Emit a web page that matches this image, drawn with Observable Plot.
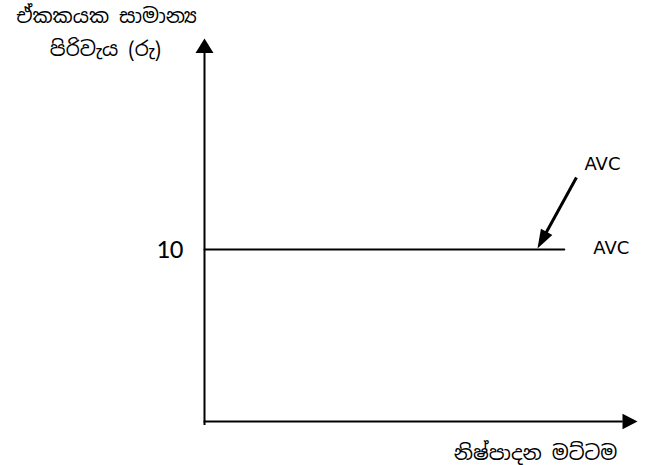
<!DOCTYPE html>
<html>
<head>
<meta charset="utf-8">
<script src="https://cdn.jsdelivr.net/npm/d3@7"></script>
<script src="https://cdn.jsdelivr.net/npm/@observablehq/plot@0.6"></script>
<style>
  html, body { margin: 0; padding: 0; background: #fff; }
  #chart svg { display: block; }
</style>
</head>
<body>
<div id="chart"></div>
<script>
// Data
const avcX = [0, 83.1];
const avcY = [10, 10];
const yTicks = [10];
const yTickLabels = ["10"];
const yLabelLines = ["ඒකකයක සාමාන්‍ය", "පිරිවැය (රු)"];
const xLabel = "නිෂ්පාදන මට්ටම";
const curveLabel = "AVC";
const annotationFrom = [85.9, 14.19];
const annotationTo = [76.9, 10.06];
const xMax = 100;
const yMax = 22.27;

const sinhalaFont = "'Noto Sans Sinhala', 'Iskoola Pota', 'Noto Sans', sans-serif";

// custom filled triangle with its tip at the origin, pointing up
function triangleSymbol(w, h) {
  return {
    draw(ctx) {
      ctx.moveTo(0, 0);
      ctx.lineTo(-w / 2, h);
      ctx.lineTo(w / 2, h);
      ctx.closePath();
    }
  };
}

const avcData = avcX.map((x, i) => ({x, y: avcY[i]}));
const frac = 0.85;
const linkEnd = [
  annotationFrom[0] + (annotationTo[0] - annotationFrom[0]) * frac,
  annotationFrom[1] + (annotationTo[1] - annotationFrom[1]) * frac
];

const plot = Plot.plot({
  width: 650,
  height: 465,
  marginLeft: 204,
  marginRight: 13,
  marginTop: 38,
  marginBottom: 44,
  x: {domain: [0, xMax], axis: null},
  y: {domain: [0, yMax], axis: null},
  style: {background: "#fff", color: "#000", overflow: "visible"},
  marks: [
    // y axis line + arrow head
    Plot.ruleX([0], {y1: -0.23, y2: yMax - 0.82, stroke: "#000", strokeWidth: 2}),
    Plot.dot([{x: 0, y: yMax}], {x: "x", y: "y", symbol: triangleSymbol(18, 14.5), fill: "#000", stroke: "none"}),
    // x axis line + arrow head
    Plot.ruleY([0], {x1: -0.1, x2: xMax - 3.3, stroke: "#000", strokeWidth: 2.2}),
    Plot.dot([{x: xMax, y: 0}], {x: "x", y: "y", symbol: triangleSymbol(15.5, 15), rotate: 90, fill: "#000", stroke: "none"}),
    // y tick label
    Plot.text(yTicks, {x: 0, y: d => d, text: (d, i) => yTickLabels[i], textAnchor: "end", dx: -21, fontSize: 27, fontFamily: "Carlito, 'Open Sans', sans-serif", fill: "#000"}),
    // AVC line
    Plot.line(avcData, {x: "x", y: "y", stroke: "#000", strokeWidth: 2}),
    Plot.text([avcData[avcData.length - 1]], {x: "x", y: "y", text: () => curveLabel, textAnchor: "start", dx: 29, dy: -1, fontSize: 18, fontFamily: "'DejaVu Sans', sans-serif", fill: "#000"}),
    // annotation arrow
    Plot.link([0], {x1: annotationFrom[0], y1: annotationFrom[1], x2: linkEnd[0], y2: linkEnd[1], stroke: "#000", strokeWidth: 3}),
    Plot.dot([0], {x: annotationTo[0], y: annotationTo[1], symbol: triangleSymbol(13, 19), rotate: 208.8, fill: "#000", stroke: "none"}),
    Plot.text([0], {x: annotationFrom[0], y: annotationFrom[1], text: () => curveLabel, textAnchor: "start", dx: 8, dy: -13, fontSize: 18, fontFamily: "'DejaVu Sans', sans-serif", fill: "#000"}),
    // axis titles
    Plot.text([yLabelLines[0]], {frameAnchor: "top-left", lineAnchor: "middle", text: d => d, dx: -98, dy: -22, textAnchor: "middle", fontSize: 20, fontFamily: sinhalaFont, fill: "#000"}),
    Plot.text([yLabelLines[1]], {frameAnchor: "top-left", lineAnchor: "middle", text: d => d, dx: -99, dy: 11, textAnchor: "middle", fontSize: 20, fontFamily: sinhalaFont, fill: "#000"}),
    Plot.text([xLabel], {frameAnchor: "bottom-right", lineAnchor: "middle", text: d => d, dx: -102, dy: 32, textAnchor: "middle", fontSize: 20, fontFamily: sinhalaFont, fill: "#000"})
  ]
});
document.getElementById("chart").appendChild(plot);
</script>
</body>
</html>
